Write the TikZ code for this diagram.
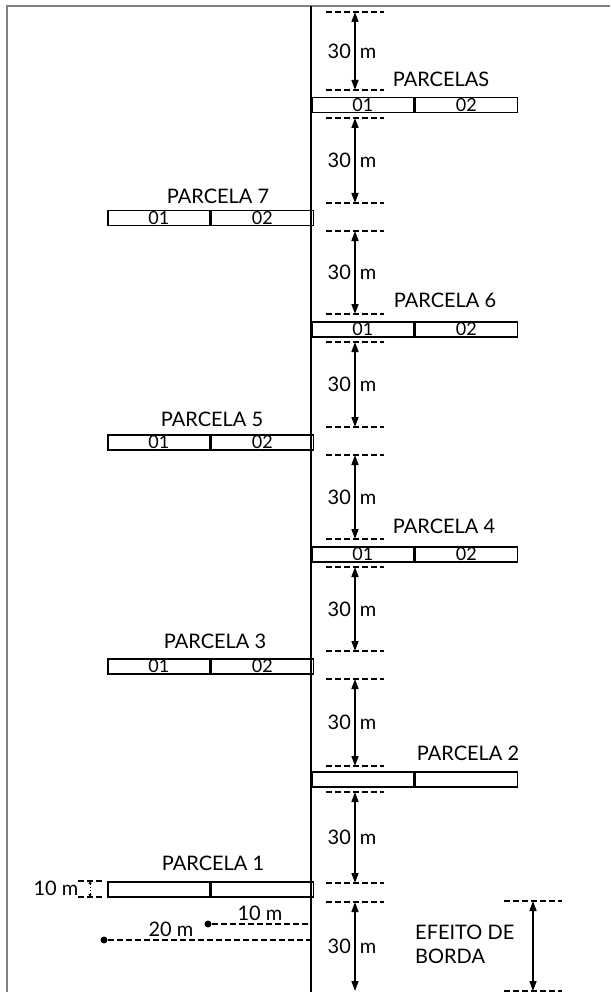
\documentclass[tikz,border=0pt]{standalone}
\usepackage{fontspec}
\setmainfont{Lato}
\usetikzlibrary{arrows.meta,positioning}

\begin{document}
\begin{tikzpicture}[
  x=1pt, y=-1pt,
  every node/.style={inner sep=1pt},
  frame/.style={draw=black!50, line width=2pt},
  axis/.style={draw, line width=1.6pt},
  cell/.style={draw, line width=1.5pt, minimum width=102pt, minimum height=15pt, inner sep=0pt, anchor=north west, font=\fontsize{18}{18}\selectfont},
  title/.style={font=\fontsize{20}{20}\selectfont},
  cut/.style={draw, line width=1.5pt, dash pattern=on 6pt off 3pt},
  span/.style={draw, line width=1.5pt, {Triangle[length=10pt,width=7pt]}-{Triangle[length=10pt,width=7pt]}},
  tiny/.style={draw, line width=0.9pt, dash pattern=on 1.5pt off 1.5pt, {Triangle[length=3pt,width=3pt]}-{Triangle[length=3pt,width=3pt]}},
  len/.style={font=\fontsize{20}{20}\selectfont, xshift=-3pt},
  dot/.style={circle, fill=black, minimum size=7pt, inner sep=0pt}]

  \useasboundingbox (0,0) rectangle (610,992);

  % frame and transect
  \draw[frame] (7,992) -- (7,6) -- (610,6);
  \coordinate (top) at (311,6);
  \coordinate (bot) at (311,992);
  \draw[axis] (top) -- (bot);

  % plots
  \node[cell] (s1) at (311,97) {01};
  \node[cell, right=0pt of s1] (s2) {02};
  \node[cell] (p7a) at (107,210) {01};
  \node[cell, right=0pt of p7a] (p7b) {02};
  \node[cell] (p6a) at (311,321) {01};
  \node[cell, right=0pt of p6a] (p6b) {02};
  \node[cell] (p5a) at (107,434) {01};
  \node[cell, right=0pt of p5a] (p5b) {02};
  \node[cell] (p4a) at (311,546) {01};
  \node[cell, right=0pt of p4a] (p4b) {02};
  \node[cell] (p3a) at (107,658) {01};
  \node[cell, right=0pt of p3a] (p3b) {02};
  \node[cell] (p2a) at (311,771) {};
  \node[cell, right=0pt of p2a] (p2b) {};
  \node[cell] (p1a) at (107,881) {};
  \node[cell, right=0pt of p1a] (p1b) {};

  \node[title] (ts) at (441,79)  {PARCELAS};
  \node[title] (t7) at (218,196) {PARCELA 7};
  \node[title] (t6) at (445,300) {PARCELA 6};
  \node[title] (t5) at (212,419) {PARCELA 5};
  \node[title] (t4) at (444,526) {PARCELA 4};
  \node[title] (t3) at (215,641) {PARCELA 3};
  \node[title] (t2) at (468,753) {PARCELA 2};
  \node[title] (t1) at (213,863) {PARCELA 1};

  % 30 m spacings
  \coordinate (a1)  at (355,12);
  \coordinate (a2)  at (355,90);
  \coordinate (a3)  at (355,118);
  \coordinate (a4)  at (355,203);
  \coordinate (a5)  at (355,231);
  \coordinate (a6)  at (355,314);
  \coordinate (a7)  at (355,342);
  \coordinate (a8)  at (355,427);
  \coordinate (a9)  at (355,455);
  \coordinate (a10) at (355,539);
  \coordinate (a11) at (355,567);
  \coordinate (a12) at (355,651);
  \coordinate (a13) at (355,679);
  \coordinate (a14) at (355,766);
  \coordinate (a15) at (355,792);
  \coordinate (a16) at (355,883);
  \coordinate (a17) at (355,902);
  \coordinate (a18) at (355,991);

  \foreach \k in {1,...,17}
    \draw[cut] ([xshift=-29pt]a\k) -- ([xshift=29pt]a\k);

  \draw[span] (a1)  -- node[len] (l1) {30\hspace{9pt}m} (a2);
  \draw[span] (a3)  -- node[len] (l2) {30\hspace{9pt}m} (a4);
  \draw[span] (a5)  -- node[len] (l3) {30\hspace{9pt}m} (a6);
  \draw[span] (a7)  -- node[len] (l4) {30\hspace{9pt}m} (a8);
  \draw[span] (a9)  -- node[len] (l5) {30\hspace{9pt}m} (a10);
  \draw[span] (a11) -- node[len] (l6) {30\hspace{9pt}m} (a12);
  \draw[span] (a13) -- node[len] (l7) {30\hspace{9pt}m} (a14);
  \draw[span] (a15) -- node[len] (l8) {30\hspace{9pt}m} (a16);
  \draw[span] (a17) -- node[len] (l9) {30\hspace{9pt}m} (a18);

  % plot width
  \coordinate (h1) at (90,881);
  \coordinate (h2) at (90,897);
  \draw[cut] ([xshift=-12pt]h1) -- ([xshift=12pt]h1);
  \draw[cut] ([xshift=-12pt]h2) -- ([xshift=12pt]h2);
  \draw[tiny] (h1) -- (h2);
  \node[title] (w) at (56,888) {10 m};

  % plot lengths
  \node[dot] (d1) at (208,924) {};
  \coordinate (e1) at (311,924);
  \draw[cut] (d1) -- (e1);
  \node[title] (m1) at (260,913) {10 m};
  \node[dot] (d2) at (104,940) {};
  \coordinate (e2) at (311,940);
  \draw[cut] (d2) -- (e2);
  \node[title] (m2) at (171,929) {20 m};

  % edge effect
  \coordinate (b1) at (533,901);
  \coordinate (b2) at (533,991);
  \draw[cut] ([xshift=-29pt]b1) -- ([xshift=29pt]b1);
  \draw[cut] ([xshift=-29pt]b2) -- ([xshift=29pt]b2);
  \draw[span] (b1) -- (b2);
  \node[title, anchor=west, align=left] (ef) at (414,944) {EFEITO DE\\[4pt]BORDA};

\end{tikzpicture}
\end{document}
